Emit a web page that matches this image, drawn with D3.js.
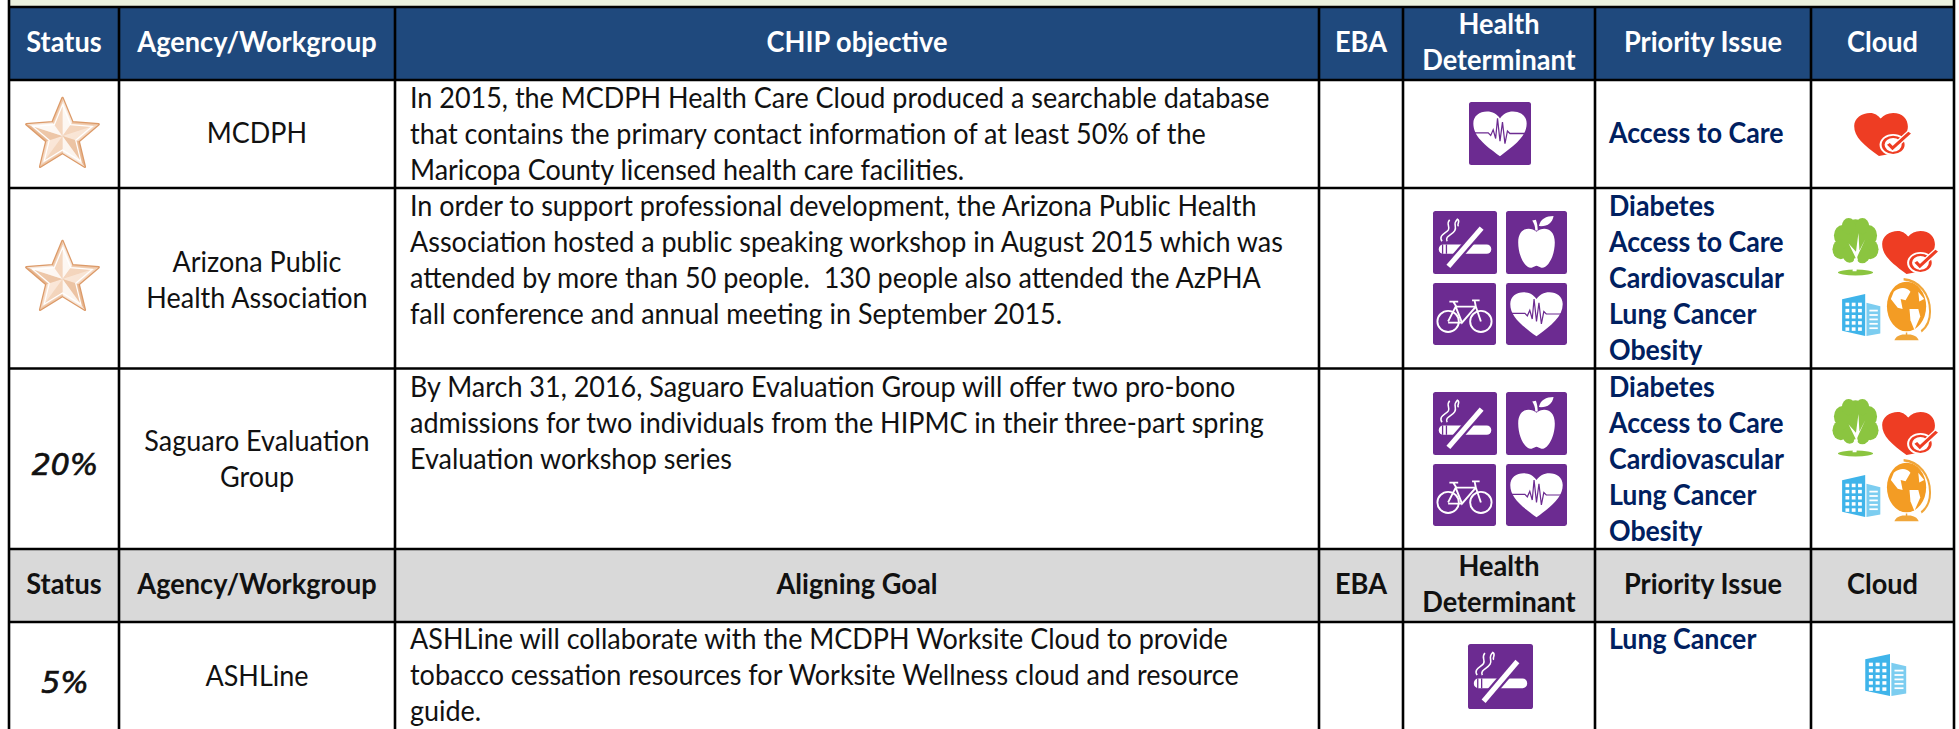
<!DOCTYPE html>
<html>
<head>
<meta charset="utf-8">
<script src="https://d3js.org/d3.v7.min.js"></script>
<style>
  html, body { margin: 0; padding: 0; background: #fff; overflow: hidden; }
  text { font-family: Lato, "Open Sans", sans-serif; }
</style>
</head>
<body>
<div id="table"></div>
<script>
// table content
const columns = ["Status", "Agency/Workgroup", "CHIP objective", "EBA", "Health Determinant", "Priority Issue", "Cloud"];
const alignColumns = ["Status", "Agency/Workgroup", "Aligning Goal", "EBA", "Health Determinant", "Priority Issue", "Cloud"];

const statuses = ["star", "star", "20%", null, "5%"];
const agencies = [
    ["MCDPH"],
    ["Arizona Public", "Health Association"],
    ["Saguaro Evaluation", "Group"],
    null,
    ["ASHLine"]
];
const objectives = [
    ["In 2015, the MCDPH Health Care Cloud produced a searchable database",
     "that contains the primary contact information of at least 50% of the",
     "Maricopa County licensed health care facilities."],
    ["In order to support professional development, the Arizona Public Health",
     "Association hosted a public speaking workshop in August 2015 which was",
     "attended by more than 50 people.  130 people also attended the AzPHA",
     "fall conference and annual meeting in September 2015."],
    ["By March 31, 2016, Saguaro Evaluation Group will offer two pro-bono",
     "admissions for two individuals from the HIPMC in their three-part spring",
     "Evaluation workshop series"],
    null,
    ["ASHLine will collaborate with the MCDPH Worksite Cloud to provide",
     "tobacco cessation resources for Worksite Wellness cloud and resource",
     "guide."]
];
const allIssues = ["Diabetes", "Access to Care", "Cardiovascular", "Lung Cancer", "Obesity"];
const priorities = [["Access to Care"], allIssues, allIssues, null, ["Lung Cancer"]];
const determinants = [["heartbeat"], ["smoking", "apple", "bike", "heartbeat"], ["smoking", "apple", "bike", "heartbeat"], null, ["smoking"]];
const clouds = [["heart"], ["tree", "heart", "building", "globe"], ["tree", "heart", "building", "globe"], null, ["building"]];

const width = 1959, height = 729;
const navy = "#1f497d", grey = "#d9d9d9", band = "#ebf1de", issueBlue = "#002060", purple = "#6c2b91";
const squeeze = 0.963;

const svg = d3.select("#table").append("svg")
    .attr("width", width)
    .attr("height", height)
    .style("display", "block");

// Column and row scales
const colEdge = d3.scaleOrdinal()
    .domain(["Status", "Agency", "Objective", "EBA", "Determinant", "Priority", "Cloud", "end"])
    .range([9, 119, 395, 1319, 1403, 1595, 1811, 1954]);
const colNames = colEdge.domain();
const rowEdge = d3.scaleOrdinal()
    .domain(["head1", "r1", "r2", "r3", "head2", "r5", "end"])
    .range([7, 80, 188, 368.5, 549, 622, 735]);
const colCenter = i => (colEdge(colNames[i]) + colEdge(colNames[i + 1])) / 2;

// Backgrounds
svg.append("rect").attr("x", 9).attr("y", 0).attr("width", 1945).attr("height", 7).attr("fill", band);
svg.selectAll(".head-bg")
    .data([["head1", "r1", navy], ["head2", "r5", grey]])
    .enter().append("rect")
    .attr("class", "head-bg")
    .attr("x", colEdge("Status"))
    .attr("width", colEdge("end") - colEdge("Status"))
    .attr("y", d => rowEdge(d[0]))
    .attr("height", d => rowEdge(d[1]) - rowEdge(d[0]))
    .attr("fill", d => d[2]);

// Text helper, Lato is wider than the original font so every line gets squeezed
function label(x, y, str, opts) {
    const o = Object.assign({anchor: "start", size: 28, weight: 400, fill: "#111"}, opts);
    const t = svg.append("text")
        .attr("x", x)
        .attr("y", y)
        .attr("text-anchor", o.anchor)
        .attr("fill", o.fill)
        .style("font-size", o.size + "px")
        .style("font-weight", o.weight)
        .style("white-space", "pre")
        .text(str);
    const len = t.node().getComputedTextLength();
    t.attr("textLength", len * (o.squeeze || squeeze)).attr("lengthAdjust", "spacingAndGlyphs");
    return t;
}

// Header rows
function headerRow(names, baseline, color) {
    names.forEach((name, i) => {
        const cx = colCenter(i);
        const o = {anchor: "middle", weight: 700, fill: color, size: 28, squeeze: 0.97};
        if (name === "Health Determinant") {
            label(cx, baseline - 18, "Health", o);
            label(cx, baseline + 18, "Determinant", o);
        } else {
            label(cx, baseline, name, o);
        }
    });
}
headerRow(columns, 52, "#fff");
headerRow(alignColumns, 594, "#111");

// Body text
const lineGap = 36;
const agencyFirst = [143, 272, 451, null, 686];
const objectiveFirst = [108, 216, 397, null, 649];
const priorityFirst = [143, 216, 397, null, 649];

agencies.forEach((lines, r) => {
    if (!lines) return;
    lines.forEach((s, i) => label(colCenter(1), agencyFirst[r] + i * lineGap, s, {anchor: "middle"}));
});
objectives.forEach((lines, r) => {
    if (!lines) return;
    lines.forEach((s, i) => label(colEdge("Objective") + 15, objectiveFirst[r] + i * lineGap, s));
});
priorities.forEach((lines, r) => {
    if (!lines) return;
    lines.forEach((s, i) => label(colEdge("Priority") + 14, priorityFirst[r] + i * lineGap, s, {weight: 700, fill: issueBlue, squeeze: 0.955}));
});

// Star status badge
const defs = svg.append("defs");
const starGrad = defs.append("linearGradient").attr("id", "starFill")
    .attr("x1", 0).attr("y1", 0).attr("x2", 1).attr("y2", 1);
starGrad.append("stop").attr("offset", "0%").attr("stop-color", "#fdf3ea");
starGrad.append("stop").attr("offset", "100%").attr("stop-color", "#eec6a6");

function star(g) {
    const pts = d3.range(10).map(i => {
        const r = i % 2 ? 17 : 38;
        const a = -Math.PI / 2 + i * Math.PI / 5;
        return [r * Math.cos(a), r * Math.sin(a)];
    });
    g.append("polygon").attr("points", pts.join(" "))
        .attr("fill", "url(#starFill)").attr("stroke", "#dc9a68").attr("stroke-width", 2.5)
        .attr("stroke-linejoin", "round");
    pts.forEach((p, i) => {
        const q = pts[(i + 1) % 10];
        g.append("polygon").attr("points", [[0, 0], p, q].join(" "))
            .attr("fill", ["#fff", "#f3d3b9", "#fbeadc", "#e9bd9b"][i % 4]).attr("opacity", 0.75);
    });
    g.append("polygon").attr("points", pts.map(p => [p[0] * 0.82, p[1] * 0.82]).join(" "))
        .attr("fill", "none").attr("stroke", "#fff").attr("stroke-width", 1.2);
}

const statusSpots = [[62.5, 136], [62.5, 279], [65, 475], null, [65, 693]];
statuses.forEach((s, r) => {
    if (!s) return;
    const p = statusSpots[r];
    if (s === "star") {
        star(svg.append("g").attr("transform", `translate(${p[0]},${p[1]})`));
    } else {
        svg.append("text")
            .attr("x", p[0]).attr("y", p[1])
            .attr("text-anchor", "middle")
            .attr("fill", "#111")
            .attr("stroke", "#111")
            .attr("stroke-width", 0.7)
            .style("font-family", "'DejaVu Sans'")
            .style("font-style", "oblique")
            .style("font-size", "30px")
            .text(s);
    }
});

// Icons are drawn in a 100x100 box
const icons = {
    heartbeat(g) {
        tile(g);
        g.append("path").attr("d", "M50 86C25 68 7 54 7 34C7 22 17 15 29 15C38 15 45 19 50 26C55 19 62 15 71 15C83 15 93 22 93 34C93 54 75 68 50 86Z").attr("fill", "#fff");
        g.append("path").attr("d", "M9 49H31L35 53L39 44L43 58L46 26L50 62L54 32L58 66L62 46L66 50H91")
            .attr("fill", "none").attr("stroke", purple).attr("stroke-width", 2);
    },
    smoking(g) {
        tile(g);
        g.append("rect").attr("x", 9).attr("y", 53).attr("width", 82).attr("height", 15).attr("rx", 7).attr("fill", "#fff");
        g.append("path").attr("d", "M15 53V68M21 53V68").attr("stroke", purple).attr("stroke-width", 2);
        g.append("path").attr("d", "M76 27L24 88").attr("stroke", purple).attr("stroke-width", 15);
        g.append("path").attr("d", "M76 27L24 88").attr("stroke", "#fff").attr("stroke-width", 8);
        g.append("path").attr("d", "M14 48C8 38 20 36 24 30C27 24 20 21 26 14M22 48C18 40 30 38 34 31C38 24 30 21 38 13C44 16 36 22 40 24")
            .attr("fill", "none").attr("stroke", "#fff").attr("stroke-width", 2.4);
    },
    apple(g) {
        tile(g);
        g.append("path").attr("d", "M50 33C40 24 20 26 20 50C20 72 32 92 42 90C46 89 48 87 50 87C52 87 54 89 58 90C68 92 80 72 80 50C80 26 60 24 50 33Z").attr("fill", "#fff");
        g.append("path").attr("d", "M48 31C48 24 46 20 43 15L49 14C51 19 52 25 52 31Z").attr("fill", "#fff");
        g.append("path").attr("d", "M54 24C56 13 66 8 78 8C76 19 68 25 54 24Z").attr("fill", "#fff");
    },
    bike(g) {
        tile(g);
        const w = g.append("g").attr("fill", "none").attr("stroke", "#fff").attr("stroke-width", 3);
        w.append("circle").attr("cx", 24).attr("cy", 62).attr("r", 17);
        w.append("circle").attr("cx", 76).attr("cy", 62).attr("r", 17);
        w.append("path").attr("d", "M24 62L36 38H68L76 62M36 38L46 64L68 38M46 64H24M32 30L37 38M26 30H40M66 28L68 38M62 28H74");
    },
    heart(g) {
        g.append("path").attr("d", "M44 96C18 72 2 56 2 32C2 15 15 4 29 4C37 4 42 9 47 16C52 9 59 4 68 4C84 4 93 17 93 33C93 44 88 54 80 62L60 92Z").attr("fill", "#ee3d23");
        g.append("circle").attr("cx", 68).attr("cy", 72).attr("r", 23).attr("fill", "#fff");
        g.append("circle").attr("cx", 68).attr("cy", 72).attr("r", 17).attr("fill", "none").attr("stroke", "#ee3d23").attr("stroke-width", 5);
        g.append("path").attr("d", "M60 70L67 79L96 46").attr("fill", "none").attr("stroke", "#fff").attr("stroke-width", 11);
        g.append("path").attr("d", "M60 70L67 79L96 46").attr("fill", "none").attr("stroke", "#ee3d23").attr("stroke-width", 6);
    },
    tree(g) {
        const leaf = g.append("g").attr("fill", "#8bc540");
        [[50, 36, 34], [24, 30, 18], [76, 30, 18], [20, 54, 17], [80, 54, 17], [36, 14, 14], [64, 14, 14], [38, 62, 15], [64, 62, 16]]
            .forEach(c => leaf.append("circle").attr("cx", c[0]).attr("cy", c[1]).attr("r", c[2]));
        g.append("path").attr("d", "M50 92L54 66L70 36L58 56L56 26L51 58L36 44L50 68L46 92Z").attr("fill", "#fff");
        g.append("ellipse").attr("cx", 50).attr("cy", 94).attr("rx", 36).attr("ry", 5).attr("fill", "#8bc540");
        g.append("path").attr("d", "M52 92L55 70L47 70L44 92Z").attr("fill", "#fff");
    },
    building(g) {
        g.append("path").attr("d", "M5 14L60 2V98L5 86Z").attr("fill", "#3fb4ea");
        g.append("path").attr("d", "M63 22L96 30V92L63 98Z").attr("fill", "#7ccdf0");
        const win = g.append("g").attr("fill", "#fff");
        d3.range(5).forEach(i => {
            d3.range(3).forEach(j => {
                win.append("rect").attr("x", 13 + j * 15).attr("y", 22 + i * 14).attr("width", 9).attr("height", 8);
            });
            win.append("rect").attr("x", 70).attr("y", 38 + i * 10).attr("width", 20).attr("height", 4);
        });
    },
    globe(g) {
        g.append("path").attr("d", "M40 2C72 4 94 26 94 54C94 70 86 80 76 86")
            .attr("fill", "none").attr("stroke", "#f0a63a").attr("stroke-width", 4);
        g.append("circle").attr("cx", 46).attr("cy", 46).attr("r", 40).attr("fill", "#f39c24");
        g.append("path").attr("d", "M20 22C32 14 46 14 54 22L44 36L34 34L38 50L28 48L14 34Z").attr("fill", "#fff");
        g.append("path").attr("d", "M52 50L70 50L74 62L62 84L54 68Z").attr("fill", "#fff");
        g.append("path").attr("d", "M70 22L82 34L72 38Z").attr("fill", "#fff");
        g.append("path").attr("d", "M46 88V94M24 99C30 90 62 90 68 99Z").attr("fill", "#f0a63a").attr("stroke", "#f0a63a").attr("stroke-width", 3);
    }
};

function tile(g) {
    g.append("rect").attr("width", 100).attr("height", 100).attr("rx", 4).attr("fill", purple);
}

function placeIcon(name, box) {
    const g = svg.append("g")
        .attr("transform", `translate(${box[0]},${box[1]}) scale(${box[2] / 100},${box[3] / 100})`);
    icons[name](g);
}

// [x, y, w, h] of each icon inside its cell
const determinantBoxes = [
    [[1469, 102, 62, 63]],
    [[1433, 211, 64, 63], [1506, 211, 61, 63], [1433, 283, 63, 62], [1506, 283, 61, 62]],
    [[1433, 392, 64, 63], [1506, 392, 61, 63], [1433, 464, 63, 62], [1506, 464, 61, 62]],
    null,
    [[1468, 644, 65, 65]]
];
const cloudBoxes = [
    [[1853, 111, 59, 47]],
    [[1831, 218, 49, 58], [1881, 229, 58, 47], [1840, 293, 42, 44], [1884, 278, 49, 62]],
    [[1831, 399, 49, 58], [1881, 410, 58, 47], [1840, 474, 42, 44], [1884, 459, 49, 62]],
    null,
    [[1863, 653, 45, 44]]
];
determinants.forEach((list, r) => {
    if (list) list.forEach((name, i) => placeIcon(name, determinantBoxes[r][i]));
});
clouds.forEach((list, r) => {
    if (list) list.forEach((name, i) => placeIcon(name, cloudBoxes[r][i]));
});

// Grid lines on top of everything
svg.selectAll(".col-line")
    .data(colNames)
    .enter().append("line")
    .attr("class", "col-line")
    .attr("x1", d => colEdge(d))
    .attr("x2", d => colEdge(d))
    .attr("y1", d => (d === "Status" || d === "end") ? 0 : rowEdge("head1"))
    .attr("y2", height)
    .attr("stroke", "#000")
    .attr("stroke-width", 2.6);

svg.selectAll(".row-line")
    .data(rowEdge.domain().slice(0, -1))
    .enter().append("line")
    .attr("class", "row-line")
    .attr("x1", colEdge("Status"))
    .attr("x2", colEdge("end"))
    .attr("y1", d => rowEdge(d))
    .attr("y2", d => rowEdge(d))
    .attr("stroke", "#000")
    .attr("stroke-width", 2.6);
</script>
</body>
</html>
